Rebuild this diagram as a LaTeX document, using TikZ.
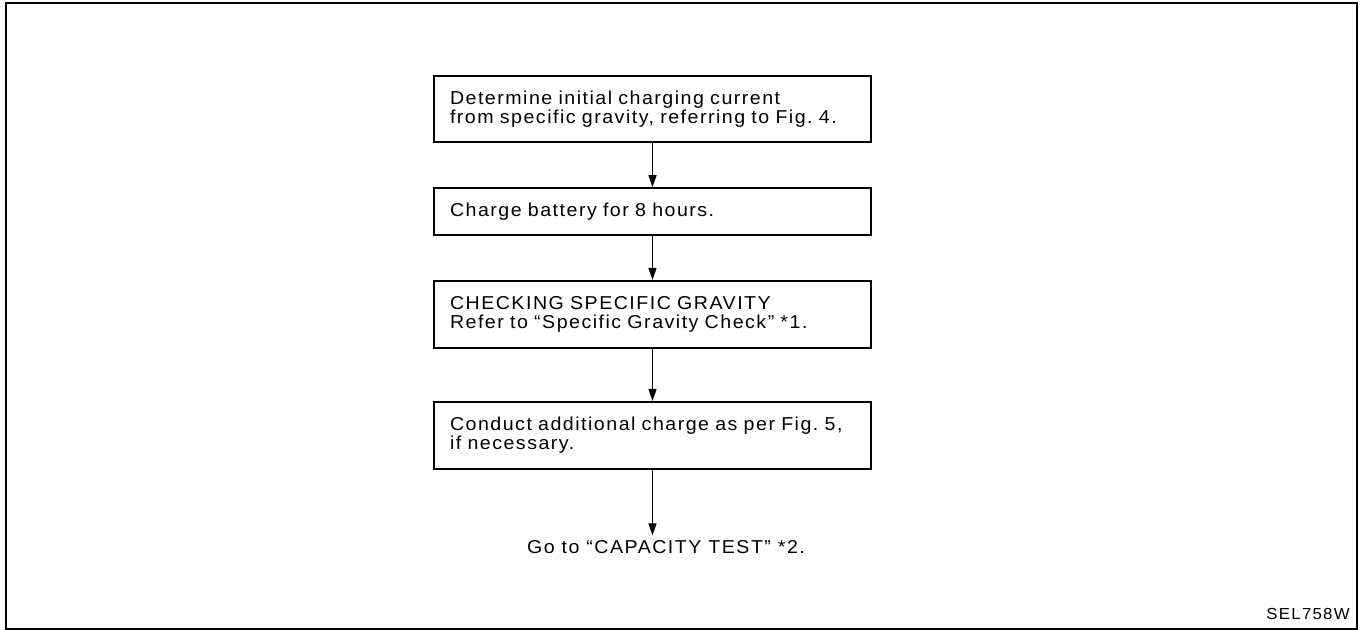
\documentclass[tikz,border=0pt]{standalone}
\usepackage{fontspec}
\setmainfont{Liberation Sans}[FakeStretch=1.05, LetterSpace=8]
\usetikzlibrary{arrows.meta}
\frenchspacing

\tikzset{
  stepbox/.style={draw=black, line width=1.3pt, inner xsep=12pt, inner ysep=0pt,
    text width=303.75pt, align=left, font=\fontsize{14}{14.5}\selectfont},
  flowline/.style={draw=black, line width=1pt, -{Triangle[length=9pt,width=6pt]}}
}

\begin{document}
\begin{tikzpicture}[y=0.75pt, x=0.75pt, yscale=-1]
\useasboundingbox (0,0) rectangle (1364,630);
\path[draw=black,line width=1.3pt] (6,3) rectangle (1357,629);
\path (652.5,108.9) node[stepbox, minimum height=49.5pt] (text3101)
  {Determine initial charging current\\from specific gravity, referring to Fig. 4.};
\path (652.5,211.5) node[stepbox, minimum height=35.25pt] (text3105)
  {Charge battery for 8 hours.};
\path (652.5,314.3) node[stepbox, minimum height=50.25pt] (text3109)
  {CHECKING SPECIFIC GRAVITY\\Refer to “Specific Gravity Check” *1.};
\path (652.5,435.3) node[stepbox, minimum height=50.25pt] (text3113)
  {Conduct additional charge as per Fig. 5,\\if necessary.};
\path (666,554) node[anchor=base, inner sep=4pt,
  font=\fontsize{14}{14.5}\selectfont] (text3117)
  {Go to “CAPACITY TEST” *2.};
\path (1350,619) node[anchor=base east, inner sep=0pt,
  font=\fontsize{12}{14}\selectfont] (text3121) {SEL758W};
\path[flowline] (text3101.south) -- (text3105.north);
\path[flowline] (text3105.south) -- (text3109.north);
\path[flowline] (text3109.south) -- (text3113.north);
\path[flowline] (text3113.south) -- (text3113.south |- text3117.north);
\end{tikzpicture}
\end{document}
